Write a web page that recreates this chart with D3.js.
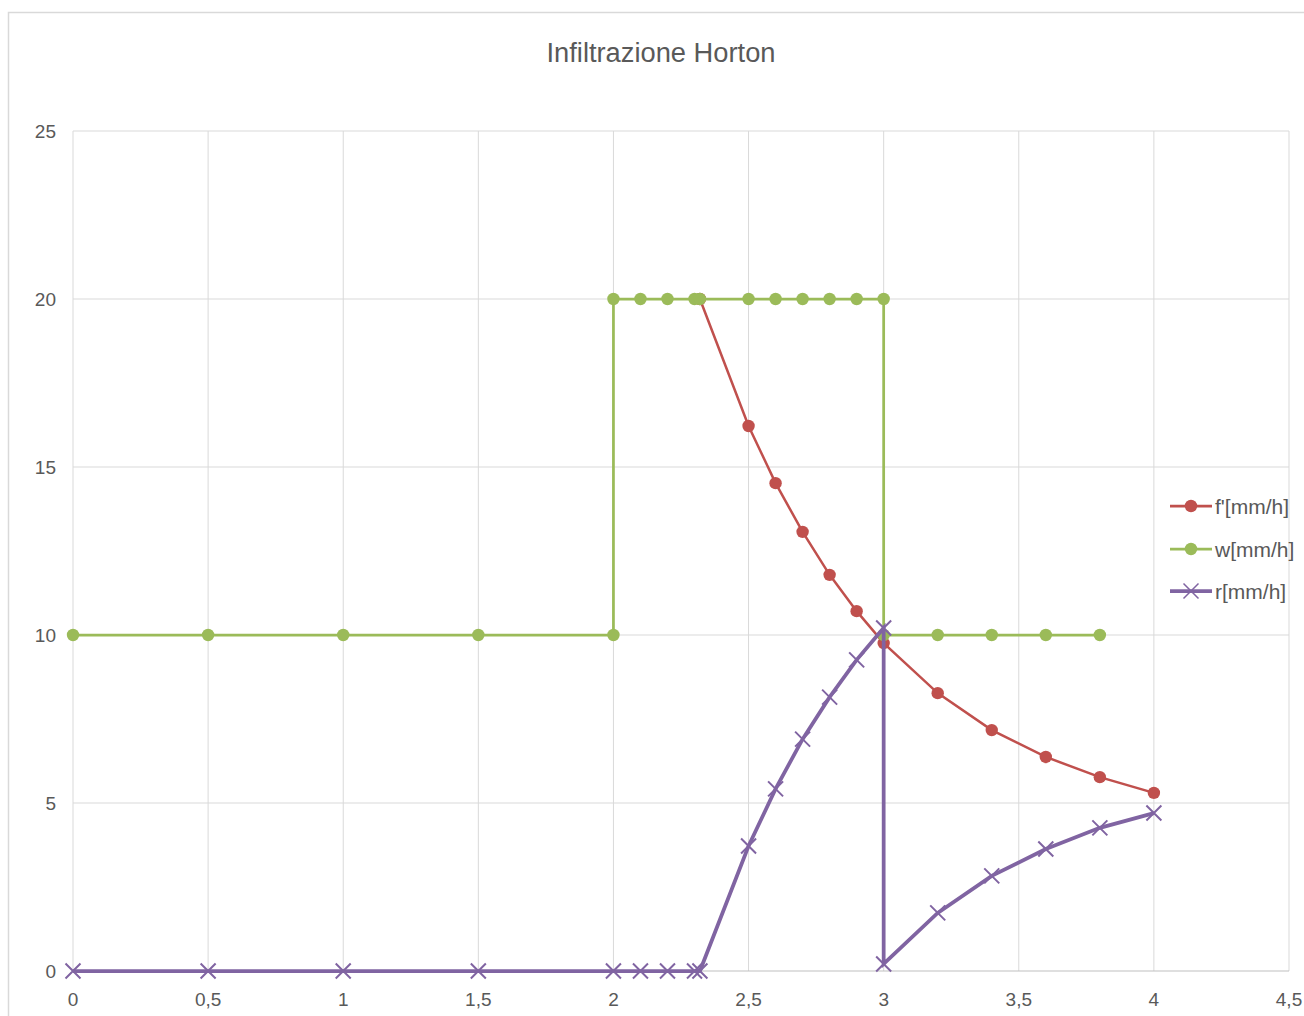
<!DOCTYPE html>
<html>
<head>
<meta charset="utf-8">
<script src="https://cdn.jsdelivr.net/npm/d3@7"></script>
<style>
  html, body { margin: 0; padding: 0; background: #ffffff; }
  svg { display: block; }
  text { font-family: "Liberation Sans", Arial, sans-serif; fill: #595959; }
</style>
</head>
<body>
<svg id="chart" width="1304" height="1016"></svg>
<script>
// Horton infiltration: rainfall intensity w, infiltration capacity f', runoff r
const title = "Infiltrazione Horton";

const fX = [2.32, 2.5, 2.6, 2.7, 2.8, 2.9, 3.0, 3.2, 3.4, 3.6, 3.8, 4.0];
const fY = [20, 16.22, 14.52, 13.07, 11.79, 10.71, 9.76, 8.27, 7.17, 6.37, 5.77, 5.30];

const wX = [0, 0.5, 1, 1.5, 2, 2, 2.1, 2.2, 2.3, 2.32, 2.5, 2.6, 2.7, 2.8, 2.9, 3, 3, 3.2, 3.4, 3.6, 3.8];
const wY = [10, 10, 10, 10, 10, 20, 20, 20, 20, 20, 20, 20, 20, 20, 20, 20, 10, 10, 10, 10, 10];

const rX = [0, 0.5, 1, 1.5, 2, 2.1, 2.2, 2.3, 2.32, 2.5, 2.6, 2.7, 2.8, 2.9, 3, 3, 3.2, 3.4, 3.6, 3.8, 4.0];
const rY = [0, 0, 0, 0, 0, 0, 0, 0, 0, 3.72, 5.42, 6.90, 8.15, 9.26, 10.21, 0.21, 1.73, 2.83, 3.63, 4.26, 4.70];

const xTicks = [0, 0.5, 1, 1.5, 2, 2.5, 3, 3.5, 4, 4.5];
const yTicks = [0, 5, 10, 15, 20, 25];

const seriesNames = ["f'[mm/h]", "w[mm/h]", "r[mm/h]"];
const colors = ["#C0504D", "#9BBB59", "#8064A2"];

const svg = d3.select("#chart");

// outer chart frame
svg.append("rect")
  .attr("x", 8.5).attr("y", 12.5)
  .attr("width", 1320).attr("height", 1030)
  .attr("fill", "#fff").attr("stroke", "#d9d9d9").attr("stroke-width", 1.5);

const x = d3.scaleLinear().domain([0, 4.5]).range([73, 1289]);
const y = d3.scaleLinear().domain([0, 25]).range([971, 131]);

const fmt = d => String(d).replace(".", ",");

// gridlines
svg.append("g")
  .selectAll("line").data(xTicks).join("line")
  .attr("x1", d => x(d)).attr("x2", d => x(d))
  .attr("y1", y(0)).attr("y2", y(25))
  .attr("stroke", "#d9d9d9").attr("stroke-width", 1);
svg.append("g")
  .selectAll("line").data(yTicks).join("line")
  .attr("x1", x(0)).attr("x2", x(4.5))
  .attr("y1", d => y(d)).attr("y2", d => y(d))
  .attr("stroke", d => d === 0 ? "#bfbfbf" : "#d9d9d9").attr("stroke-width", 1);

// tick labels
svg.append("g").selectAll("text").data(yTicks).join("text")
  .attr("x", 56).attr("y", d => y(d)).attr("dy", "0.36em")
  .attr("text-anchor", "end").attr("font-size", 19)
  .text(fmt);
svg.append("g").selectAll("text").data(xTicks).join("text")
  .attr("x", d => x(d)).attr("y", 1006)
  .attr("text-anchor", "middle").attr("font-size", 19)
  .text(fmt);

// title
svg.append("text")
  .attr("x", 661).attr("y", 62)
  .attr("text-anchor", "middle").attr("font-size", 27)
  .attr("textLength", 229).attr("lengthAdjust", "spacingAndGlyphs")
  .text(title);

const line = d3.line().x(d => x(d[0])).y(d => y(d[1]));
const pts = (xs, ys) => xs.map((v, i) => [v, ys[i]]);

const fPts = pts(fX, fY), wPts = pts(wX, wY), rPts = pts(rX, rY);

function crossPath(cx, cy, s) {
  return `M${cx - s},${cy - s}L${cx + s},${cy + s}M${cx - s},${cy + s}L${cx + s},${cy - s}`;
}

// f'
svg.append("path").datum(fPts).attr("d", line)
  .attr("fill", "none").attr("stroke", colors[0]).attr("stroke-width", 2.5);
svg.append("g").selectAll("circle").data(fPts).join("circle")
  .attr("cx", d => x(d[0])).attr("cy", d => y(d[1])).attr("r", 6.2)
  .attr("fill", colors[0]);

// w
svg.append("path").datum(wPts).attr("d", line)
  .attr("fill", "none").attr("stroke", colors[1]).attr("stroke-width", 2.75);
svg.append("g").selectAll("circle").data(wPts).join("circle")
  .attr("cx", d => x(d[0])).attr("cy", d => y(d[1])).attr("r", 6.2)
  .attr("fill", colors[1]);

// r
svg.append("path").datum(rPts).attr("d", line)
  .attr("fill", "none").attr("stroke", colors[2]).attr("stroke-width", 3.75);
svg.append("g").selectAll("path").data(rPts).join("path")
  .attr("d", d => crossPath(x(d[0]), y(d[1]), 7.5))
  .attr("fill", "none").attr("stroke", colors[2]).attr("stroke-width", 2);

// legend
const legendY = [506, 549, 591];
const lg = svg.append("g");
seriesNames.forEach((name, i) => {
  const g = lg.append("g");
  g.append("line").attr("x1", 1170).attr("x2", 1212)
    .attr("y1", legendY[i]).attr("y2", legendY[i])
    .attr("stroke", colors[i]).attr("stroke-width", i === 2 ? 3.75 : 2.75);
  if (i < 2) {
    g.append("circle").attr("cx", 1191).attr("cy", legendY[i]).attr("r", 6.2).attr("fill", colors[i]);
  } else {
    g.append("path").attr("d", crossPath(1191, legendY[i], 7.5))
      .attr("fill", "none").attr("stroke", colors[i]).attr("stroke-width", 1.5);
  }
  g.append("text").attr("x", 1215).attr("y", legendY[i]).attr("dy", "0.36em")
    .attr("font-size", 21).text(name);
});
</script>
</body>
</html>
